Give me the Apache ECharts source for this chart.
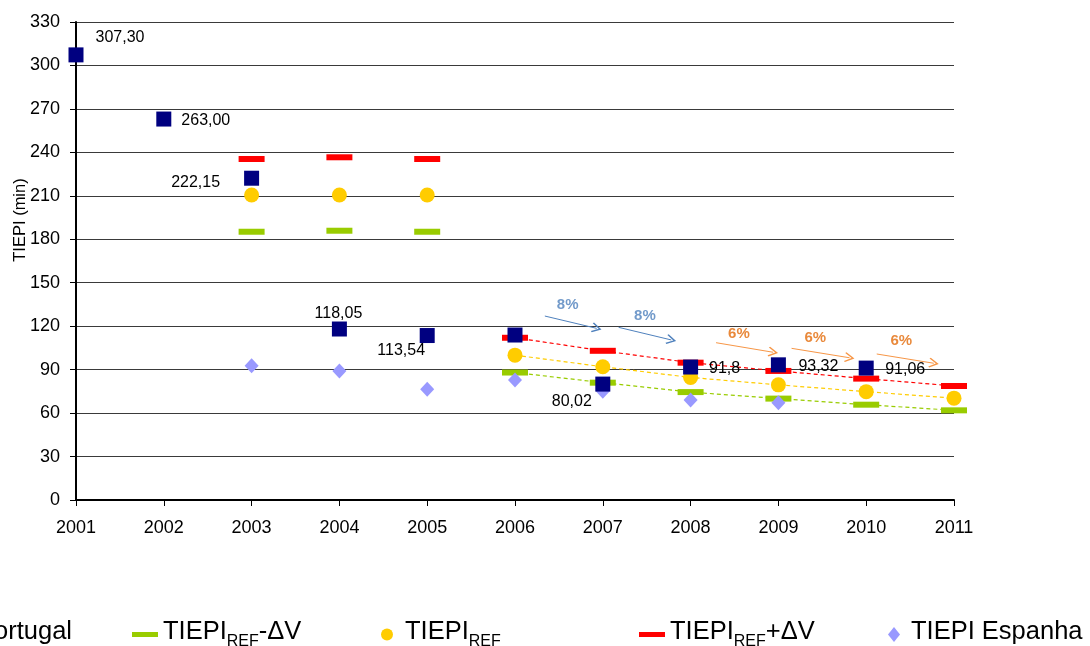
<!DOCTYPE html>
<html><head><meta charset="utf-8">
<script src="https://cdn.jsdelivr.net/npm/echarts@6/dist/echarts.min.js"></script>
<style>html,body{margin:0;padding:0;background:#fff}#c{width:1090px;height:646px}</style>
</head><body><div id="c"></div>
<script>
// ---- data ----
const years = [2001, 2002, 2003, 2004, 2005, 2006, 2007, 2008, 2009, 2010, 2011];
const portugal = [307.30, 263.00, 222.15, 118.05, 113.54, 113.9, 80.02, 91.8, 93.32, 91.06, null];
const portugalLabels = ['307,30', '263,00', '222,15', '118,05', '113,54', '', '80,02', '91,8', '93,32', '91,06', ''];
const refMinus = [null, null, 185.2, 185.9, 185.2, 88.0, 81.0, 74.5, 70.0, 65.8, 61.9];
const ref = [null, null, 210.6, 210.6, 210.6, 100.0, 92.0, 84.6, 79.5, 74.8, 70.3];
const refPlus = [null, null, 235.4, 236.6, 235.4, 112.0, 103.0, 94.8, 89.1, 83.8, 78.7];
const espanha = [null, null, 92.7, 89.0, 76.4, 82.8, 75.0, 69.0, 67.2, null, null];
const trendFrom = 2006;
const yTicks = [0, 30, 60, 90, 120, 150, 180, 210, 240, 270, 300, 330];
// annotation arrows (data space): [x1, y1, x2, y2]
const arrowsBlue = [[2006.34, 127.0, 2006.93, 118.5], [2007.18, 119.2, 2007.78, 110.5]];
const arrowsOrange = [[2008.29, 108.6, 2008.94, 102.0], [2009.15, 104.7, 2009.81, 98.2], [2010.12, 100.8, 2010.77, 94.4]];
const pctBlue = [[2006.60, 134.6, '8%'], [2007.48, 127.0, '8%']];
const pctOrange = [[2008.55, 115.0, '6%'], [2009.42, 111.6, '6%'], [2010.40, 110.0, '6%']];
const names = ['Portugal', 'TIEPI REF-ΔV', 'TIEPI REF', 'TIEPI REF+ΔV', 'TIEPI Espanha'];
const legendRich = ['{a|Portugal}', '{a|TIEPI}{s|REF}{a|-ΔV}', '{a|TIEPI}{s|REF}', '{a|TIEPI}{s|REF}{a|+ΔV}', '{ap|TIEPI Espanha}'];

// ---- styles ----
const FONT = "'Liberation Sans', Arial, sans-serif";
const labelOffsets = [[44, -17], [42, 2], [-56, 4], [-1, -15], [-26, 15], [0, 0], [-31, 18], [34, 2], [40, 2], [39, 1], [0, 0]];
const C = { navy: '#000080', green: '#99cc00', yellow: '#ffcc00', red: '#ff0000', lilac: '#9999ff', blue: '#4f81bd', orange: '#f79646', orangeTxt: '#e46c0a' };
const chevron = 'path://M5,0 L10,8 L9,9 L5,2.6 L1,9 L0,8 Z';

const pts = arr => years.map((y, i) => arr[i] == null ? null : [y, arr[i]]).filter(Boolean);
const trend = arr => years.map((y, i) => (y >= trendFrom && arr[i] != null) ? [y, arr[i]] : null).filter(Boolean);

const portugalData = years.map((y, i) => portugal[i] == null ? null : {
  value: [y, portugal[i]],
  label: { show: portugalLabels[i] !== '', formatter: portugalLabels[i], position: 'inside', offset: labelOffsets[i] }
}).filter(Boolean);

function arrowLines(list, color) {
  return {
    type: 'line', data: [], silent: true,
    markLine: {
      silent: true, symbol: ['none', chevron], symbolSize: 10,
      lineStyle: { color: color, width: 1, type: 'solid' },
      label: { show: false },
      data: list.map(a => [{ coord: [a[0], a[1]] }, { coord: [a[2], a[3]] }])
    }
  };
}
function pctLabels(list, color) {
  return {
    type: 'scatter', silent: true, symbolSize: 0, z: 6,
    data: list.map(p => ({ value: [p[0], p[1]], name: p[2] })),
    label: { show: true, position: 'inside', formatter: p => p.name, color: color, fontSize: 15, fontWeight: 'bold', fontFamily: FONT }
  };
}
function trendLine(arr, color) {
  return { type: 'line', data: trend(arr), symbol: 'none', silent: true, z: 1,
    lineStyle: { color: color, width: 1.2, type: [4, 3] } };
}
function marks(name, arr, symbol, size, color, z) {
  return { name: name, type: 'scatter', data: pts(arr), symbol: symbol, symbolSize: size,
    itemStyle: { color: color, opacity: 1 }, z: z };
}

const legendLefts = [-47, 127, 376, 634, 883];
const legendIcons = ['rect', 'rect', 'circle', 'rect', 'diamond'];
const legendSizes = [[14, 14], [26, 5], [26, 12], [26, 5], [12, 15]];

const chart = echarts.init(document.getElementById('c'), null, { renderer: 'canvas' });
chart.setOption({
  animation: false,
  backgroundColor: '#ffffff',
  textStyle: { fontFamily: FONT },
  grid: { left: 76, right: 136, top: 22, bottom: 146, containLabel: false, outerBoundsMode: 'none' },
  xAxis: {
    type: 'value', min: years[0], max: years[years.length - 1], interval: 1,
    axisLine: { show: true, lineStyle: { color: '#000', width: 2 } },
    axisTick: { show: true, length: 6, lineStyle: { color: '#000', width: 1 } },
    axisLabel: { color: '#000', fontSize: 18, margin: 19, fontFamily: FONT, formatter: v => String(v) },
    splitLine: { show: false }
  },
  yAxis: {
    type: 'value', min: yTicks[0], max: yTicks[yTicks.length - 1], interval: 30,
    name: 'TIEPI (min)', nameLocation: 'middle', nameGap: 47, nameMoveOverlap: false,
    nameTextStyle: { color: '#000', fontSize: 16.5, fontFamily: FONT, padding: [0, 0, 0, 82] },
    axisLine: { show: true, onZero: false, lineStyle: { color: '#000', width: 2 } },
    axisTick: { show: true, length: 6, lineStyle: { color: '#000', width: 1 } },
    axisLabel: { color: '#000', fontSize: 18, margin: 16, fontFamily: FONT },
    splitLine: { show: true, lineStyle: { color: '#3a3a3a', width: 1.2 } }
  },
  legend: names.map((n, i) => ({
    data: [{ name: n, icon: legendIcons[i] }],
    left: legendLefts[i], top: 614,
    itemWidth: legendSizes[i][0], itemHeight: legendSizes[i][1], itemGap: 0,
    selectedMode: false,
    formatter: () => legendRich[i],
    textStyle: {
      color: '#000', fontFamily: FONT, fontSize: 25.5,
      rich: {
        a: { fontSize: 25.5, fontFamily: FONT, color: '#000', verticalAlign: 'bottom', padding: [0, 0, 5, 0] },
        ap: { fontSize: 25.5, fontFamily: FONT, color: '#000', verticalAlign: 'bottom', padding: [0, 0, 5, 6] },
        s: { fontSize: 16, fontFamily: FONT, color: '#000', verticalAlign: 'bottom' }
      }
    }
  })),
  series: [
    trendLine(refMinus, C.green),
    trendLine(ref, C.yellow),
    trendLine(refPlus, C.red),
    marks(names[1], refMinus, 'rect', [26, 6], C.green, 3),
    marks(names[2], ref, 'circle', 15, C.yellow, 3),
    marks(names[3], refPlus, 'rect', [26, 6], C.red, 3),
    marks(names[4], espanha, 'diamond', [14, 15], C.lilac, 4),
    { name: names[0], type: 'scatter', data: portugalData, symbol: 'rect', symbolSize: 15,
      itemStyle: { color: C.navy, opacity: 1 }, z: 5,
      label: { color: '#000', fontSize: 16, fontFamily: FONT } },
    arrowLines(arrowsBlue, C.blue),
    arrowLines(arrowsOrange, C.orange),
    pctLabels(pctBlue, C.blue),
    pctLabels(pctOrange, C.orangeTxt)
  ]
});
</script></body></html>
